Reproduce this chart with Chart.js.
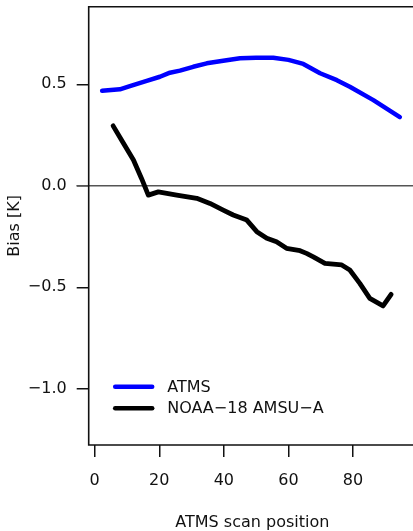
<!DOCTYPE html>
<html>
<head>
<meta charset="utf-8">
<script src="https://cdn.jsdelivr.net/npm/chart.js@4"></script>
<style>
  html, body { margin: 0; padding: 0; background: #fff; overflow: hidden; }
  #wrap { width: 413px; height: 531px; overflow: hidden; }
  canvas { display: block; }
</style>
</head>
<body>
<div id="wrap"><canvas id="c" width="440" height="531"></canvas></div>
<script>
// ---- data ----
const seriesNames = ["ATMS", "NOAA\u221218 AMSU\u2212A"];
const atmsPos  = [2.3, 7.8, 10.9, 16.1, 20.2, 23.3, 26.4, 30.5, 34.7, 39.8, 45.0, 50.0, 55.3, 60.0, 64.6, 69.8, 75.0, 79.0, 86.3, 94.5];
const atmsBias = [0.468, 0.475, 0.491, 0.517, 0.537, 0.557, 0.567, 0.586, 0.603, 0.616, 0.628, 0.630, 0.631, 0.620, 0.600, 0.554, 0.520, 0.488, 0.422, 0.338];
const amsuPos  = [5.7, 8.9, 12.0, 14.5, 16.6, 19.7, 25.4, 31.6, 35.7, 39.8, 42.9, 47.1, 50.2, 53.3, 56.3, 59.4, 63.6, 65.6, 67.7, 71.3, 76.5, 79.0, 82.1, 85.2, 89.3, 91.8];
const amsuBias = [0.295, 0.209, 0.127, 0.036, -0.046, -0.030, -0.046, -0.062, -0.087, -0.120, -0.144, -0.169, -0.226, -0.259, -0.276, -0.308, -0.320, -0.333, -0.350, -0.382, -0.390, -0.415, -0.481, -0.555, -0.592, -0.535];
const xTicks = [0, 20, 40, 60, 80];
const yTicks = [-1.0, -0.5, 0.0, 0.5];
const xTitle = "ATMS scan position";
const yTitle = "Bias [K]";

const FONT = "'DejaVu Sans', sans-serif";

function pts(xs, ys) { return xs.map((x, i) => ({x: x, y: ys[i]})); }
function fmt(v) { const s = Math.abs(v).toFixed(1); return (v < 0 ? "\u2212" : "") + s; }

const boxPlugin = {
  id: 'box',
  beforeDatasetsDraw(chart) {
    const {ctx, chartArea: a, scales} = chart;
    const y0 = scales.y.getPixelForValue(0);
    ctx.save();
    ctx.strokeStyle = '#555';
    ctx.lineWidth = 1.6;
    ctx.beginPath();
    ctx.moveTo(a.left - 12, y0);
    ctx.lineTo(chart.width, y0);
    ctx.stroke();
    ctx.restore();
  },
  afterDraw(chart) {
    const {ctx, chartArea: a} = chart;
    ctx.save();
    ctx.strokeStyle = '#111';
    ctx.lineWidth = 1.6;
    ctx.lineCap = 'square';
    ctx.beginPath();
    ctx.moveTo(chart.width, a.top);
    ctx.lineTo(a.left, a.top);
    ctx.lineTo(a.left, a.bottom);
    ctx.lineTo(chart.width, a.bottom);
    ctx.stroke();
    // legend
    const items = chart.data.datasets;
    const lx0 = a.left + 26.5, lx1 = a.left + 63.5, tx = a.left + 78.5;
    const ly = a.top + 380, dy = 21.6;
    ctx.font = "16px " + FONT;
    ctx.textBaseline = 'middle';
    ctx.textAlign = 'left';
    items.forEach((d, i) => {
      const y = ly + i * dy;
      ctx.strokeStyle = d.borderColor;
      ctx.lineWidth = 4.5;
      ctx.lineCap = 'round';
      ctx.beginPath();
      ctx.moveTo(lx0, y);
      ctx.lineTo(lx1, y);
      ctx.stroke();
      ctx.fillStyle = '#111';
      ctx.fillText(d.label, tx, y + 1);
    });
    ctx.restore();
  }
};

new Chart(document.getElementById('c'), {
  type: 'scatter',
  data: {
    datasets: [
      { label: seriesNames[0], data: pts(atmsPos, atmsBias), showLine: true, borderColor: '#0000ff',
        borderWidth: 4.5, pointRadius: 0, borderCapStyle: 'round', borderJoinStyle: 'round', tension: 0 },
      { label: seriesNames[1], data: pts(amsuPos, amsuBias), showLine: true, borderColor: '#000000',
        borderWidth: 4.8, pointRadius: 0, borderCapStyle: 'round', borderJoinStyle: 'round', tension: 0 }
    ]
  },
  options: {
    responsive: false,
    animation: false,
    devicePixelRatio: 1,
    layout: { padding: { left: 0, top: 6.7, right: 24, bottom: 0 } },
    plugins: { legend: { display: false }, tooltip: { enabled: false } },
    scales: {
      x: {
        type: 'linear', min: -1.86, max: 99.5,
        afterBuildTicks: s => { s.ticks = xTicks.map(v => ({value: v})); },
        afterFit: s => { s.height = 86; s.paddingLeft = 0; s.paddingRight = 0; },
        grid: { display: true, drawOnChartArea: false, drawTicks: true, tickLength: 12, color: '#111', lineWidth: 1.5 },
        border: { display: false },
        ticks: { color: '#111', font: { family: FONT, size: 16 }, padding: 14, maxRotation: 0, autoSkip: false,
                 callback: v => String(v) },
        title: { display: true, text: xTitle, color: '#111', font: { family: FONT, size: 16 }, padding: { top: 0, bottom: -1.6 } }
      },
      y: {
        type: 'linear', min: -1.277, max: 0.882,
        afterBuildTicks: s => { s.ticks = yTicks.map(v => ({value: v})); },
        afterFit: s => { s.width = 88.7; s.paddingTop = 0; s.paddingBottom = 0; },
        grid: { display: true, drawOnChartArea: false, drawTicks: true, tickLength: 12, color: '#111', lineWidth: 1.5 },
        border: { display: false },
        ticks: { color: '#111', font: { family: FONT, size: 16 }, padding: 10, autoSkip: false,
                 callback: v => fmt(v) },
        title: { display: true, text: yTitle, color: '#111', font: { family: FONT, size: 16 }, padding: { top: 5.4, bottom: 0 } }
      }
    }
  },
  plugins: [boxPlugin]
});
</script>
</body>
</html>
